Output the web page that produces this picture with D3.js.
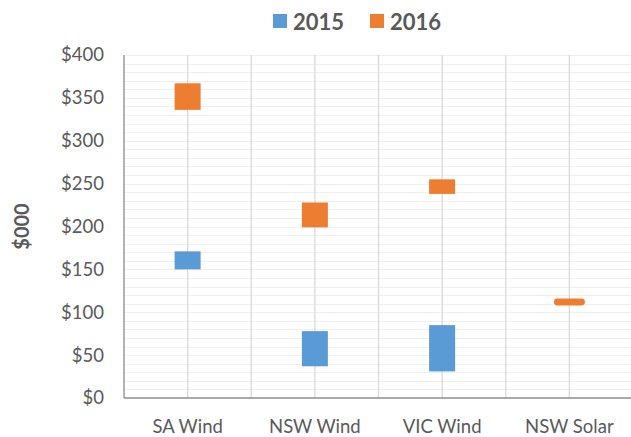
<!DOCTYPE html>
<html>
<meta charset="utf-8">
<style type="text/css">
	body { margin: 0; background: #fff; }
	text { font-family: Lato, "Open Sans", sans-serif; fill: #595959; }
	.minor line { stroke: #efefef; stroke-width: 1px; }
	.vgrid line { stroke: #d9d9d9; stroke-width: 1.3px; }
</style>
<svg width="631" height="437"></svg>
<script src="https://d3js.org/d3.v7.min.js"></script>
<script>
	// range (low / high) in $000 for each plant type
	var categories = ['SA Wind', 'NSW Wind', 'VIC Wind', 'NSW Solar'];
	var low2015 = [150, 37, 31, null];
	var high2015 = [171, 78, 85, null];
	var low2016 = [336, 199, 238, 108];
	var high2016 = [367, 228, 255, 116];
	var yTicks = [0, 50, 100, 150, 200, 250, 300, 350, 400];
	var seriesNames = ['2015', '2016'];
	var colors = ['#5b9bd5', '#ed7d31'];

	var svg = d3.select('svg'),
			pLeft = 124, pRight = 633, pTop = 55, pBottom = 398;

	var x = d3.scaleBand().domain(categories).range([pLeft, pRight]);
	var y = d3.scaleLinear().domain([0, 400]).range([pBottom, pTop]);

	// faint gridlines every $10
	svg.append('g').attr('class', 'minor')
		.selectAll('line')
		.data(d3.range(10, 401, 10))
		.enter().append('line')
			.attr('x1', pLeft).attr('x2', pRight)
			.attr('y1', (d) => Math.round(y(d)) + 0.5)
			.attr('y2', (d) => Math.round(y(d)) + 0.5);

	// vertical lines at category edges and centres
	var vx = [];
	categories.forEach((c) => {
		vx.push(x(c));
		vx.push(x(c) + x.bandwidth() / 2);
	});
	vx.push(pRight);
	svg.append('g').attr('class', 'vgrid')
		.selectAll('line')
		.data(vx.slice(1))
		.enter().append('line')
			.attr('x1', (d) => d).attr('x2', (d) => d)
			.attr('y1', pTop).attr('y2', pBottom);

	// axis lines
	svg.append('line')
		.attr('x1', pLeft).attr('x2', pLeft)
		.attr('y1', pTop).attr('y2', pBottom)
		.attr('stroke', '#8c8c8c').attr('stroke-width', 1.3);
	svg.append('line')
		.attr('x1', pLeft).attr('x2', pRight)
		.attr('y1', pBottom).attr('y2', pBottom)
		.attr('stroke', '#8c8c8c').attr('stroke-width', 1.3);

	// y tick labels
	svg.append('g')
		.selectAll('text')
		.data(yTicks)
		.enter().append('text')
			.attr('x', 104)
			.attr('y', (d) => y(d))
			.attr('dy', '0.35em')
			.attr('text-anchor', 'end')
			.attr('font-size', 18.5)
			.text((d) => '$' + d);

	// category labels
	svg.append('g')
		.selectAll('text')
		.data(categories)
		.enter().append('text')
			.attr('x', (d) => x(d) + x.bandwidth() / 2)
			.attr('y', 427)
			.attr('dy', '0.35em')
			.attr('text-anchor', 'middle')
			.attr('font-size', 18.5)
			.text((d) => d);

	// y axis title
	svg.append('text')
		.attr('transform', 'translate(22,' + (pTop + pBottom) / 2 + ') rotate(-90)')
		.attr('dy', '0.35em')
		.attr('text-anchor', 'middle')
		.attr('font-size', 20)
		.attr('font-weight', 'bold')
		.text('$000');

	// floating bars
	var barW = 26;
	var series = [[low2015, high2015], [low2016, high2016]];
	series.forEach((s, si) => {
		categories.forEach((c, i) => {
			if (s[0][i] == null) return;
			var h = y(s[0][i]) - y(s[1][i]);
			var thin = h < 10;
			svg.append('rect')
				.attr('x', x(c) + x.bandwidth() / 2 - barW / 2 - (thin ? 2.5 : 0))
				.attr('width', barW + (thin ? 5 : 0))
				.attr('y', y(s[1][i]))
				.attr('height', h)
				.attr('rx', thin ? 3.5 : 0)
				.attr('fill', colors[si]);
		});
	});

	// legend
	var legend = svg.append('g');
	var lx = [273, 370];
	seriesNames.forEach((n, i) => {
		legend.append('rect')
			.attr('x', lx[i]).attr('y', 14)
			.attr('width', 14).attr('height', 14)
			.attr('fill', colors[i]);
		legend.append('text')
			.attr('x', lx[i] + 20).attr('y', 22)
			.attr('dy', '0.35em')
			.attr('font-size', 22)
			.attr('font-weight', 'bold')
			.text(n);
	});
</script>
</html>
